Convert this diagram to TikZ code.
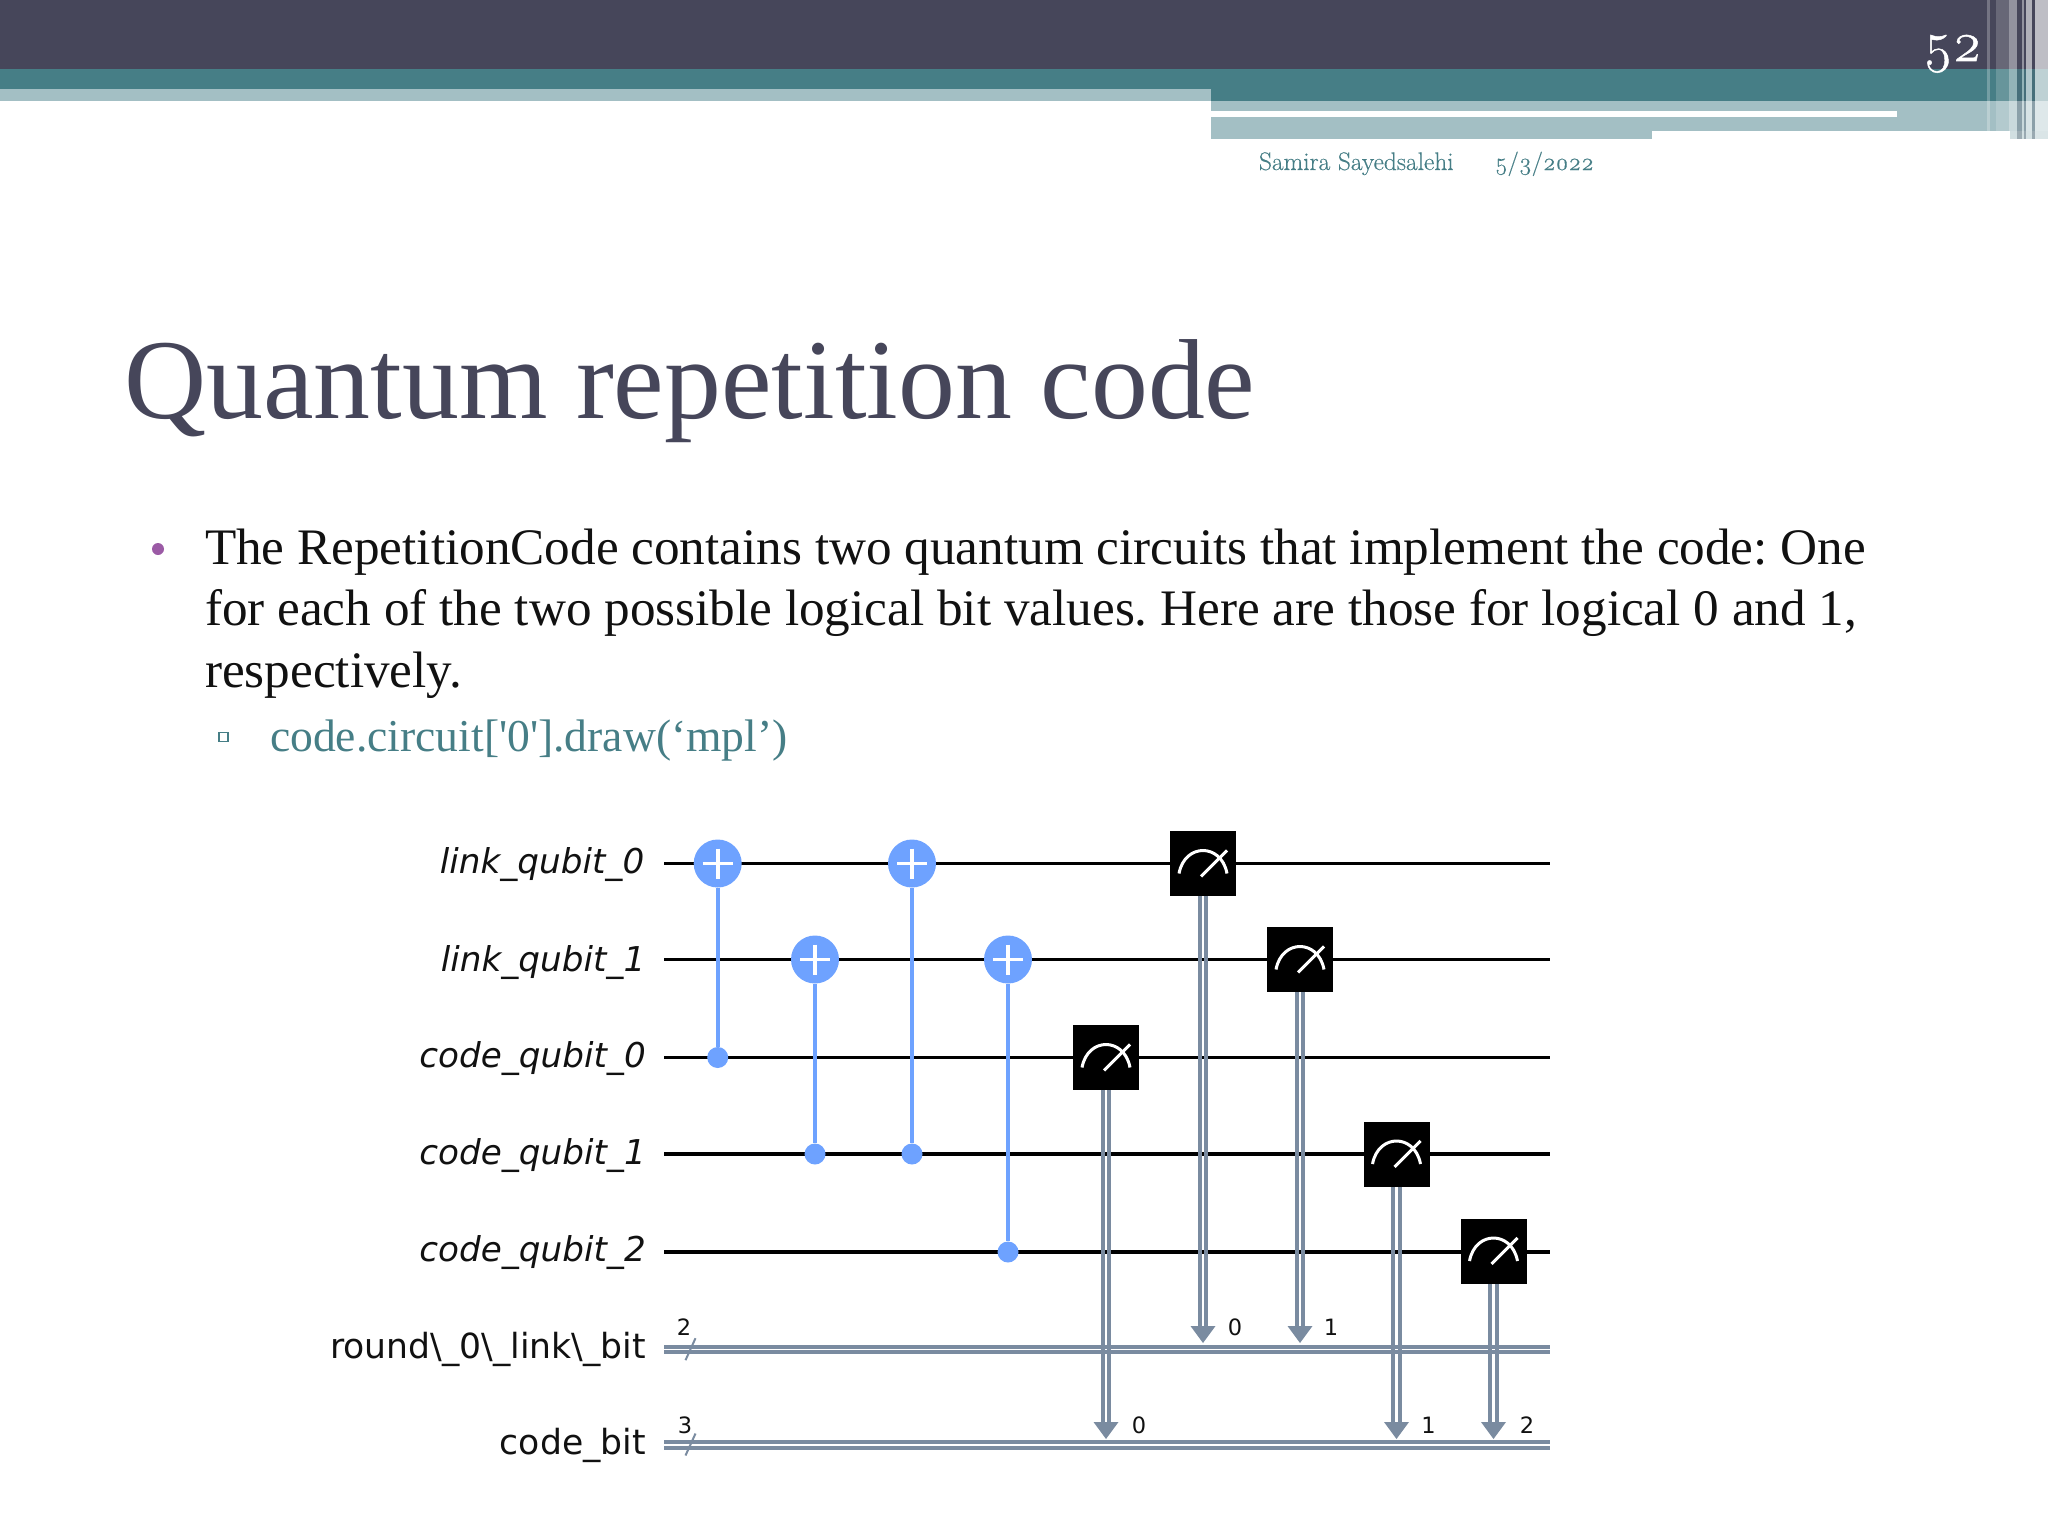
\documentclass[tikz,border=0pt]{standalone}
\usepackage{fontspec}
\usetikzlibrary{backgrounds,calc}
\setmainfont{Liberation Serif}
\newfontfamily\dvfont{DejaVu Sans}
\newfontfamily\geo[Numbers=OldStyle,FakeBold=0.35]{Latin Modern Roman}
\newfontfamily\geobig[Numbers=OldStyle,FakeBold=0.9]{Latin Modern Roman}
\definecolor{hdark}{HTML}{46465A}
\definecolor{hteal}{HTML}{467E86}
\definecolor{hlight}{HTML}{A3BFC4}
\definecolor{qblue}{HTML}{6EA2FF}
\definecolor{cgray}{HTML}{7A8BA0}
\definecolor{ink}{HTML}{111111}
\definecolor{bulletpurple}{HTML}{9B5AA5}
\newcommand{\fs}[1]{\fontsize{#1}{#1}\selectfont}
\frenchspacing
\tikzset{
  x=1pt,y=-1pt,
  txt/.style={anchor=base west,inner sep=0pt,outer sep=0pt},
  qlabel/.style={anchor=base east,inner sep=0pt,text=ink,font=\dvfont\itshape\fs{34.2}},
  clabel/.style={anchor=base east,inner sep=0pt,text=ink,font=\dvfont\fs{34.6}},
  small/.style={inner sep=0pt,text=ink,font=\dvfont\fs{22.5}},
  target/.style={circle,fill=qblue,minimum size=48pt,inner sep=0pt},
  ctrl/.style={circle,fill=qblue,minimum size=21pt,inner sep=0pt},
  meas/.style={fill=black,minimum width=66pt,minimum height=65pt,inner sep=0pt},
  qwire/.style={black,line width=3.8pt},
  cwire/.style={cgray,line width=3.9pt},
  cslash/.style={cgray,line width=2pt},
  bluel/.style={qblue,line width=4pt},
  plusl/.style={white,line width=3.8pt},
  dial/.style={white,line width=3pt},
}
\newcommand{\plusat}[1]{\draw[plusl] ([xshift=-15pt]#1.center) -- ([xshift=15pt]#1.center);\draw[plusl] ([yshift=15pt]#1.center) -- ([yshift=-15pt]#1.center);}
\newcommand{\dialat}[1]{\draw[dial,shift={(#1.center)}] (-24,10) .. controls (-21,-6) and (-10,-13) .. (0,-13) .. controls (10,-13) and (21,-6) .. (24,10);\draw[dial,shift={(#1.center)}] (-2,13) -- (24,-13);}
\newcommand{\measline}[2]{%
  \draw[cwire] ([xshift=-3.3pt]#1.south) -- ([xshift=-3.3pt,yshift=12pt]#2);
  \draw[cwire] ([xshift=3.3pt]#1.south) -- ([xshift=3.3pt,yshift=12pt]#2);
  \fill[cgray,shift={(#2)}] (0,0) -- (-12.5,-17) -- (12.5,-17) -- cycle;}
\begin{document}
\begin{tikzpicture}
\useasboundingbox (0,0) rectangle (2048,1536);
% ---- header shapes
\fill[hdark] (0,0) rectangle (2048,69);
\fill[hteal] (0,69) rectangle (2048,100.7);
\fill[hlight] (0,89.5) rectangle (1211,100.7);
\fill[hlight] (1211,100.7) rectangle (2048,131.5);
\fill[hlight] (1211,131.5) rectangle (1652,139);
\fill[white] (1211,111) rectangle (1897,117.3);
\fill[hlight] (2010,131.5) rectangle (2048,139);
\foreach \a/\b/\o in {1987/1990/.25,1996/2009/.18,2009/2017/.42,2022/2024/.42,2025.5/2032/.58,2034.5/2048/.65}
  \fill[white,opacity=\o] (\a,0) rectangle (\b,131.5);
\foreach \a/\b/\c in {2009/2017/.5,2017/2022/.25,2022/2024/.5,2024/2025.5/.2,2025.5/2032/.55,2032/2034.5/.2,2034.5/2048/.6}
  \fill[white,opacity=\c] (\a,131.5) rectangle (\b,139);
\foreach \a/\b in {2017/2022,2024/2025.5,2032/2034.5}
  \fill[hdark,opacity=.25] (\a,69) rectangle (\b,139);
% ---- header text
\node[txt,text=white,font=\geobig\fs{56}] (num) at (1923.5,61) {52};
\node[txt,text=hteal,font=\geo\fs{25.4}] (auth) at (1259,170) {Samira Sayedsalehi};
\node[txt,text=hteal,font=\geo\fs{24.4}] (date) at (1495,170) {5/3/2022};
% ---- title and body
\node[txt,text=hdark,font=\fs{113.8}] (title) at (124,418) {Quantum repetition code};
\fill[bulletpurple] (158,549) circle (6);
\node[txt,text=ink,font=\fs{51.2}] (l1) at (205,564) {The RepetitionCode contains two quantum circuits that implement the code: One};
\node[txt,text=ink,font=\fs{51.2}] (l2) at (205,625) {for each of the two possible logical bit values. Here are those for logical 0 and 1,};
\node[txt,text=ink,font=\fs{51.2}] (l3) at (205,687) {respectively.};
\draw[hteal,line width=1.4pt] (219,732.5) rectangle (228,741.5);
\node[txt,text=hteal,font=\fs{45.6}] (l4) at (270,751.5) {code.circuit[\textquotesingle0\textquotesingle].draw(‘mpl’)};
% ---- wire ends
\coordinate (q0s) at (664,863.5); \coordinate (q0e) at (1550,863.5);
\coordinate (q1s) at (664,959.5); \coordinate (q1e) at (1550,959.5);
\coordinate (q2s) at (664,1057.5); \coordinate (q2e) at (1550,1057.5);
\coordinate (q3s) at (664,1154); \coordinate (q3e) at (1550,1154);
\coordinate (q4s) at (664,1252); \coordinate (q4e) at (1550,1252);
\coordinate (c0s) at (664,1346.7); \coordinate (c0e) at (1550,1346.7);
\coordinate (c1s) at (664,1442); \coordinate (c1e) at (1550,1442);
% ---- labels
\node[qlabel] (lq0) at (644.5,873) {link\_qubit\_0};
\node[qlabel] (lq1) at (645.5,971) {link\_qubit\_1};
\node[qlabel] (cq0) at (646,1067) {code\_qubit\_0};
\node[qlabel] (cq1) at (646,1164) {code\_qubit\_1};
\node[qlabel] (cq2) at (646,1261) {code\_qubit\_2};
\node[clabel] (rb) at (646,1358) {round\textbackslash\_0\textbackslash\_link\textbackslash\_bit};
\node[clabel] (cb) at (646,1454) {code\_bit};
% ---- gates
\node[target] (t1) at (717.7,863.5) {};
\node[ctrl] (k1) at (717.7,1057.5) {};
\node[target] (t2) at (815,959.5) {};
\node[ctrl] (k2) at (815,1154) {};
\node[target] (t3) at (912,863.5) {};
\node[ctrl] (k3) at (912,1154) {};
\node[target] (t4) at (1008,959.5) {};
\node[ctrl] (k4) at (1008,1252) {};
\node[meas] (m1) at (1106,1057.5) {};
\node[meas] (m2) at (1203,863.5) {};
\node[meas] (m3) at (1300,959.5) {};
\node[meas] (m4) at (1396.5,1154) {};
\node[meas] (m5) at (1493.5,1251) {};
\foreach \g in {t1,t2,t3,t4} {\plusat{\g}}
\foreach \g in {m1,m2,m3,m4,m5} {\dialat{\g}}
% ---- arrow tips
\coordinate (a1) at (1106,1439); \coordinate (a2) at (1203,1343);
\coordinate (a3) at (1300,1343); \coordinate (a4) at (1396.5,1439);
\coordinate (a5) at (1493.5,1439);
% ---- small labels
\node[small] (n2) at (684,1327.5) {2};
\node[small] (n3) at (685,1425) {3};
\node[small] (b0) at (1139,1425) {0};
\node[small] (b1) at (1235,1327) {0};
\node[small] (b2) at (1331,1327) {1};
\node[small] (b3) at (1428.5,1425) {1};
\node[small] (b4) at (1527,1425) {2};
\begin{scope}[on background layer]
  \foreach \w in {q0,q1,q2,q3,q4} {\draw[qwire] (\w s) -- (\w e);}
  \foreach \w in {c0,c1} {
    \draw[cwire] (\w s) -- (\w e);
    \draw[cwire] ([yshift=-5.7pt]\w s) -- ([yshift=-5.7pt]\w e);
  }
  \draw[cslash] ($(c0s)+(21.5,13.5)$) -- ($(c0s)+(31.5,-8.5)$);
  \draw[cslash] ($(c1s)+(21.5,13.5)$) -- ($(c1s)+(31.5,-8.5)$);
  \draw[bluel] (t1) -- (k1);
  \draw[bluel] (t2) -- (k2);
  \draw[bluel] (t3) -- (k3);
  \draw[bluel] (t4) -- (k4);
  \measline{m1}{a1}
  \measline{m2}{a2}
  \measline{m3}{a3}
  \measline{m4}{a4}
  \measline{m5}{a5}
\end{scope}
\end{tikzpicture}
\end{document}
